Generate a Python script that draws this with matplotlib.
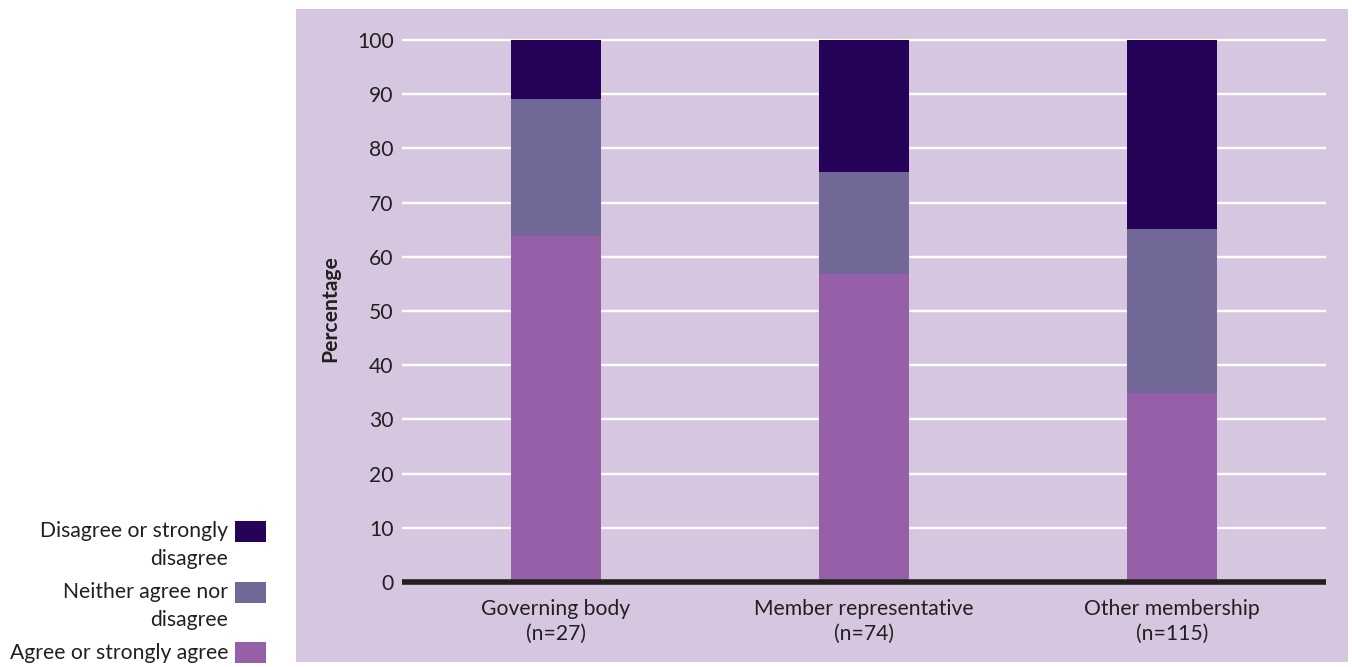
import numpy as np
import matplotlib
matplotlib.use("Agg")
import matplotlib.pyplot as plt
from matplotlib.patches import Rectangle

plt.rcParams['font.family'] = ['Lato', 'DejaVu Sans']

# data
groups = ["Governing body\n(n=27)", "Member representative\n(n=74)", "Other membership\n(n=115)"]
agree = [63.9, 56.8, 34.8]
neither = [25.3, 18.9, 30.4]
disagree = [10.8, 24.3, 34.8]
series_names = ["Agree or strongly agree", "Neither agree nor\ndisagree", "Disagree or strongly\ndisagree"]
colours = ["#9560a8", "#716897", "#250358"]
yticks = np.arange(0, 101, 10)

bg = "#d7c6e0"
txt = "#231f20"
fs = 15.2

fig = plt.figure(figsize=(13.52, 6.67), dpi=100)
fig.patches.append(Rectangle((296 / 1352, 1 - 662 / 667), (1348 - 296) / 1352, (662 - 9) / 667,
                             transform=fig.transFigure, facecolor=bg, edgecolor="none", zorder=-10))

ax = fig.add_axes([402 / 1352, 1 - 582 / 667, (1326 - 402) / 1352, (582 - 34.6) / 667])
ax.set_facecolor(bg)
x = np.arange(len(groups))
w = 0.295
bottom = np.zeros(len(groups))
for vals, c in zip([agree, neither, disagree], colours):
    ax.bar(x, vals, w, bottom=bottom, color=c, zorder=3)
    bottom = bottom + np.array(vals)

ax.set_xlim(-0.5, 2.5)
ax.set_ylim(0, 101)
ax.set_yticks(yticks)
ax.set_xticks(x)
ax.set_xticklabels(groups, fontsize=fs, color=txt, linespacing=1.3)
ax.tick_params(axis="y", length=0, pad=6, labelsize=fs, labelcolor=txt)
ax.tick_params(axis="x", length=0, pad=12)
ax.grid(axis="y", color="white", linewidth=1.7, zorder=1)
ax.set_axisbelow(True)
for s in ["top", "right", "left"]:
    ax.spines[s].set_visible(False)
ax.spines["bottom"].set_linewidth(4)
ax.spines["bottom"].set_color(txt)
ax.spines["bottom"].set_capstyle("butt")
ax.spines["bottom"].set_zorder(4)
ax.set_ylabel("Percentage", fontsize=fs, color=txt, fontweight="bold", labelpad=12)

# legend drawn by hand: text right aligned, swatch next to first line
leg_y = [652.8, 592.3, 531.3]
for name, c, yc in zip(series_names, colours, leg_y):
    fig.patches.append(Rectangle((235 / 1352, 1 - (yc + 10.3) / 667), 30.5 / 1352, 20.6 / 667,
                                 transform=fig.transFigure, facecolor=c, edgecolor="none"))
    fig.text(228 / 1352, 1 - (yc - 10) / 667, name, ha="right", va="top", fontsize=fs, color=txt,
             multialignment="right", linespacing=1.5, transform=fig.transFigure)

fig.savefig("out.png", dpi=100)
